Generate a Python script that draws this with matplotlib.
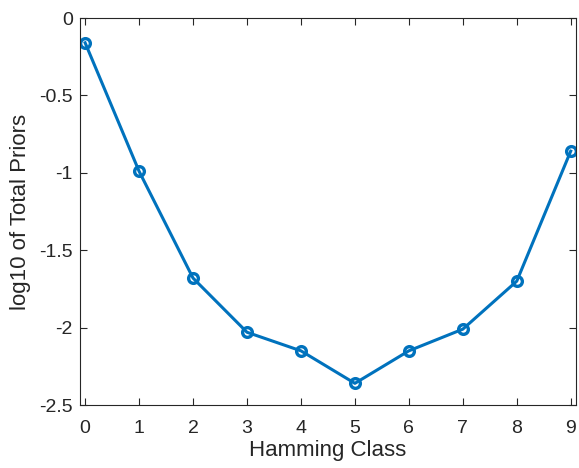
import numpy as np
import matplotlib
matplotlib.use('Agg')
import matplotlib.pyplot as plt

hamming_class = [0, 1, 2, 3, 4, 5, 6, 7, 8, 9]
log_priors = [-0.16, -0.99, -1.68, -2.03, -2.15, -2.36, -2.15, -2.01, -1.70, -0.86]

plt.rcParams['font.family'] = ['Liberation Sans', 'DejaVu Sans']

fig = plt.figure(figsize=(5.79, 4.68), dpi=100)
ax = fig.add_axes([0.1377, 0.1346, 0.8573, 0.8269])

ax.plot(hamming_class, log_priors, color='#0072BD', linewidth=2.2,
        marker='o', markersize=7, markerfacecolor='none', markeredgewidth=2.4)

ax.set_xlim(-0.1, 9.1)
ax.set_ylim(-2.5, 0)
ax.set_xticks(hamming_class)
ax.set_yticks([-2.5, -2, -1.5, -1, -0.5, 0])
ax.set_yticklabels(['-2.5', '-2', '-1.5', '-1', '-0.5', '0'])

for s in ax.spines.values():
    s.set_color('#262626')
    s.set_linewidth(0.8)
ax.tick_params(direction='in', top=True, right=True, length=5, width=0.8,
               colors='#262626', labelsize=14)
ax.tick_params(axis='x', pad=11)
ax.tick_params(axis='y', pad=5)

ax.set_xlabel('Hamming Class', fontsize=16, color='#262626', labelpad=2)
ax.set_ylabel('log10 of Total Priors', fontsize=16, color='#262626', labelpad=6)

fig.savefig('out.png', dpi=100)
